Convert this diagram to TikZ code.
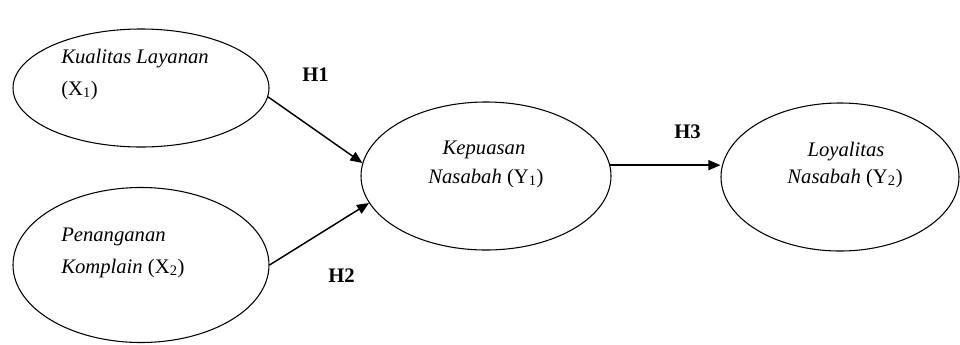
\documentclass[tikz,border=0pt]{standalone}
\usepackage{fontspec}
\setmainfont{Liberation Serif}
\usetikzlibrary{arrows.meta,shapes.geometric}
\tikzset{
  varbox/.style={draw,ellipse,line width=0.8pt,inner sep=0pt},
  varlabel/.style={font=\fontsize{15.5}{19}\selectfont,inner sep=0pt},
  hyp/.style={font=\fontsize{15.5}{19}\selectfont\bfseries,inner sep=0pt,anchor=base west},
  linkarrow/.style={line width=1.1pt,-{Triangle[length=9pt,width=7.5pt]}}
}
\begin{document}
\begin{tikzpicture}[x=0.75pt,y=-0.75pt]
                \useasboundingbox (0,0) rectangle (960,344);
                \node[varbox,minimum width=192pt,minimum height=88.5pt] (x1) at (141,88) {};
                \node[varbox,minimum width=192pt,minimum height=116.25pt] (x2) at (141,265) {};
                \node[varbox,minimum width=187.5pt,minimum height=111pt] (y1) at (486,176) {};
                \node[varbox,minimum width=178.5pt,minimum height=111pt] (y2) at (840,177) {};
                \node[varlabel,anchor=base west] (x1a) at (61,63) {\textit{Kualitas Layanan}};
                \node[varlabel,anchor=base west] (x1b) at (61,95) {(X\textsubscript{1})};
                \node[varlabel,anchor=base west] (x2a) at (61,241) {\textit{Penanganan}};
                \node[varlabel,anchor=base west] (x2b) at (61,273) {\textit{Komplain} (X\textsubscript{2})};
                \node[varlabel,anchor=base] (y1a) at (484,154) {\textit{Kepuasan}};
                \node[varlabel,anchor=base] (y1b) at (486,183) {\textit{Nasabah} (Y\textsubscript{1})};
                \node[varlabel,anchor=base] (y2a) at (846,156) {\textit{Loyalitas}};
                \node[varlabel,anchor=base] (y2b) at (845,183) {\textit{Nasabah} (Y\textsubscript{2})};
                \draw[linkarrow] (x1.-4) -- (y1.174);
                \draw[linkarrow] (x2.east) -- (y1.193);
                \draw[linkarrow] (y1.5) -- (y1.5 -| y2.west);
                \node[hyp] (h1) at (302,81) {H1};
                \node[hyp] (h2) at (328,282) {H2};
                \node[hyp] (h3) at (674,138) {H3};
            \end{tikzpicture}
\end{document}
